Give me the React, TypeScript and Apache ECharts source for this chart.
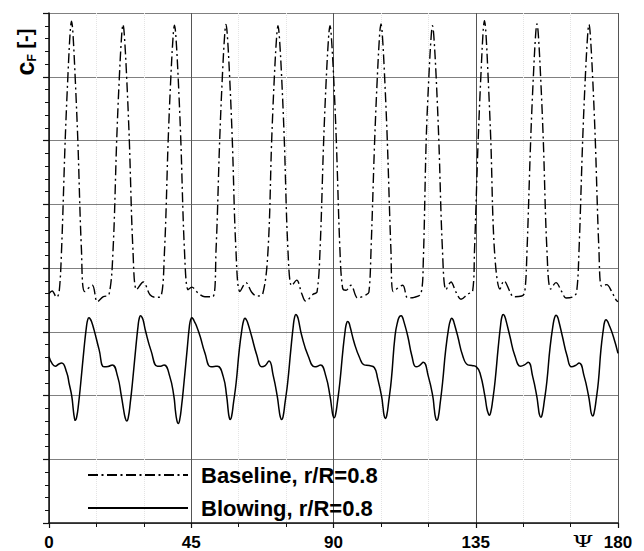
import React, { useEffect, useRef } from "react";
import * as echarts from "echarts";

const seriesNames = ["Baseline, r/R=0.8", "Blowing, r/R=0.8"];
const xTickStep = 45;
const xMin = 0;
const xMax = 180;
const yMin = 0;
const yMax = 8;

// Baseline, r/R=0.8  [psi (deg), c_F]
const baseline: [number, number][] = [
  [0, 3.6], [1.0, 3.64], [2.4, 3.54], [3.2, 3.62],
  [3.97, 4.28], [5.12, 6.0], [5.97, 7.0], [6.72, 7.72], [7.12, 7.87], [7.52, 7.72], [8.27, 7.0], [9.12, 6.0], [10.27, 4.28],
  [11.29, 3.63], [13.7, 3.73], [15.28, 3.47], [17.2, 3.55], [18.98, 3.58],
  [20.26, 4.28], [21.41, 6.0], [22.26, 7.0], [23.01, 7.67], [23.41, 7.82], [23.81, 7.67], [24.56, 7.0], [25.41, 6.0], [26.56, 4.28],
  [27.74, 3.66], [29.83, 3.78], [31.95, 3.58], [33.6, 3.54], [35.33, 3.55],
  [36.55, 4.28], [37.7, 6.0], [38.55, 7.0], [39.3, 7.66], [39.7, 7.81], [40.1, 7.66], [40.85, 7.0], [41.7, 6.0], [42.85, 4.28],
  [44.0, 3.66], [45.2, 3.7], [47.1, 3.61], [49.3, 3.55], [51.8, 3.55],
  [52.84, 4.28], [53.99, 6.0], [54.84, 7.0], [55.59, 7.67], [55.99, 7.82], [56.39, 7.67], [57.14, 7.0], [57.99, 6.0], [59.14, 4.28],
  [60.42, 3.63], [62.32, 3.77], [64.12, 3.62], [65.7, 3.56], [67.6, 3.59],
  [69.29, 4.28], [70.44, 6.0], [71.29, 7.0], [72.04, 7.65], [72.44, 7.8], [72.84, 7.65], [73.59, 7.0], [74.44, 6.0], [75.59, 4.28],
  [76.78, 3.72], [78.36, 3.81], [79.94, 3.6], [81.2, 3.48], [83.61, 3.59], [84.78, 3.62],
  [85.74, 4.28], [86.89, 6.0], [87.74, 7.0], [88.49, 7.65], [88.89, 7.8], [89.29, 7.65], [90.04, 7.0], [90.89, 6.0], [92.04, 4.28],
  [92.9, 3.68], [93.95, 3.65], [95.53, 3.73], [97.65, 3.53], [100.28, 3.58], [101.2, 3.62],
  [101.87, 4.28], [103.02, 6.0], [103.87, 7.0], [104.62, 7.68], [105.02, 7.83], [105.42, 7.68], [106.17, 7.0], [107.02, 6.0], [108.17, 4.28],
  [108.91, 3.63], [111.89, 3.73], [113.47, 3.53], [115.56, 3.54], [117.68, 3.6],
  [118.4, 4.1], [119.32, 6.0], [120.17, 7.0], [120.92, 7.65], [121.32, 7.8], [121.72, 7.65], [122.47, 7.0], [123.32, 6.0], [124.47, 4.28],
  [125.59, 3.66], [127.17, 3.78], [128.75, 3.62], [130.33, 3.51], [132.45, 3.59], [134.03, 3.64],
  [134.61, 4.28], [135.76, 6.0], [136.61, 7.0], [137.36, 7.73], [137.76, 7.88], [138.16, 7.73], [138.91, 7.0], [139.76, 6.0], [140.91, 4.28],
  [142.67, 3.67], [143.93, 3.8], [145.83, 3.63], [146.88, 3.55], [149.53, 3.56], [150.5, 3.62],
  [151.22, 4.28], [152.37, 6.0], [153.22, 7.0], [153.97, 7.68], [154.37, 7.83], [154.77, 7.68], [155.52, 7.0], [156.37, 6.0], [157.52, 4.28],
  [158.71, 3.67], [160.38, 3.77], [162.19, 3.63], [163.55, 3.53], [165.85, 3.55], [166.9, 3.62],
  [167.67, 4.28], [168.82, 6.0], [169.67, 7.0], [170.42, 7.67], [170.82, 7.82], [171.22, 7.67], [171.97, 7.0], [172.82, 6.0], [173.97, 4.28],
  [174.84, 3.71], [176.42, 3.74], [178.0, 3.63], [179.36, 3.5], [180, 3.47],
];

// Blowing, r/R=0.8  [psi (deg), c_F]
const blowing: [number, number][] = [
  [0, 2.61], [1.0, 2.5], [2.0, 2.46], [3.0, 2.49], [4.0, 2.51], [5.6, 2.36], [6.4, 2.18], [7.2, 1.99], [7.7, 1.77], [8.0, 1.66], [8.3, 1.61],
  [8.75, 1.66], [9.35, 1.87], [10.05, 2.2], [11.05, 2.72], [11.85, 3.08], [12.25, 3.19], [12.65, 3.22], [13.05, 3.2], [13.45, 3.16], [14.25, 3.03], [15.85, 2.72], [17.4, 2.45], [18.7, 2.455], [20.0, 2.48], [21.7, 2.3], [22.9, 1.99], [23.6, 1.78], [24.1, 1.65], [24.6, 1.6],
  [25.1, 1.66], [25.7, 1.88], [26.4, 2.2], [27.4, 2.72], [28.2, 3.1], [28.6, 3.22], [29.0, 3.25], [29.4, 3.23], [29.8, 3.18], [30.6, 3.0], [32.3, 2.7], [34.3, 2.46], [35.3, 2.46], [36.4, 2.48], [38.2, 2.3], [39.5, 1.99], [40.0, 1.76], [40.45, 1.61], [40.9, 1.56],
  [41.35, 1.62], [41.95, 1.84], [42.7, 2.2], [43.7, 2.72], [44.4, 3.08], [44.8, 3.19], [45.2, 3.22], [45.6, 3.2], [46.0, 3.16], [46.6, 3.1], [47.8, 2.93], [49.3, 2.67], [51.2, 2.45], [52.3, 2.455], [53.3, 2.46], [55.1, 2.3], [56.2, 1.99], [56.7, 1.76], [57.0, 1.66], [57.3, 1.625],
  [57.75, 1.67], [58.35, 1.88], [59.2, 2.2], [60.2, 2.72], [61.1, 3.06], [61.6, 3.18], [62.0, 3.21], [62.4, 3.19], [62.8, 3.15], [64.1, 2.93], [65.7, 2.64], [67.3, 2.45], [68.4, 2.47], [69.6, 2.54], [70.9, 2.32], [72.2, 1.99], [72.8, 1.77], [73.15, 1.67], [73.6, 1.625],
  [74.05, 1.67], [74.65, 1.88], [75.5, 2.2], [76.5, 2.72], [77.3, 3.1], [77.7, 3.23], [78.1, 3.27], [78.5, 3.25], [78.9, 3.19], [79.9, 2.95], [82.0, 2.62], [84.1, 2.45], [85.0, 2.46], [85.9, 2.48], [87.6, 2.3], [88.9, 1.99], [89.45, 1.8], [89.8, 1.69], [90.2, 1.65],
  [90.65, 1.7], [91.25, 1.9], [92.0, 2.2], [93.0, 2.72], [93.7, 3.02], [94.1, 3.13], [94.5, 3.16], [94.9, 3.14], [95.3, 3.07], [96.6, 2.82], [98.2, 2.6], [99.7, 2.48], [101.3, 2.47], [102.9, 2.44], [104.0, 2.26], [105.2, 1.99], [105.7, 1.8], [106.0, 1.69], [106.4, 1.64],
  [106.85, 1.69], [107.45, 1.9], [108.3, 2.25], [109.5, 2.95], [110.4, 3.18], [110.9, 3.24], [111.4, 3.25], [111.8, 3.23], [112.2, 3.17], [113.5, 2.93], [114.8, 2.62], [116.1, 2.45], [117.2, 2.47], [118.4, 2.52], [120.0, 2.3], [121.4, 1.99], [121.9, 1.78], [122.25, 1.66], [122.7, 1.61],
  [123.15, 1.66], [123.75, 1.88], [124.5, 2.2], [125.5, 2.72], [126.5, 3.08], [127.0, 3.18], [127.4, 3.21], [127.8, 3.19], [128.2, 3.13], [129.3, 2.93], [130.9, 2.62], [132.5, 2.48], [133.8, 2.47], [135.2, 2.45], [136.4, 2.34], [137.9, 1.99], [138.5, 1.8], [138.9, 1.73], [139.3, 1.69],
  [139.75, 1.74], [140.35, 1.92], [141.1, 2.22], [142.1, 2.75], [142.9, 3.12], [143.3, 3.24], [143.7, 3.27], [144.1, 3.25], [144.5, 3.19], [145.8, 2.93], [147.4, 2.62], [149.2, 2.46], [150.4, 2.48], [151.6, 2.52], [153.0, 2.3], [154.3, 1.99], [154.8, 1.81], [155.15, 1.7], [155.6, 1.66],
  [156.05, 1.71], [156.65, 1.9], [157.5, 2.22], [158.5, 2.75], [159.5, 3.12], [160.0, 3.23], [160.4, 3.26], [160.8, 3.24], [161.2, 3.18], [162.4, 2.93], [163.9, 2.62], [165.3, 2.45], [166.5, 2.47], [167.7, 2.51], [169.3, 2.3], [170.7, 1.99], [171.2, 1.83], [171.55, 1.72], [172.0, 1.68],
  [172.45, 1.73], [173.05, 1.92], [173.8, 2.22], [174.6, 2.72], [175.4, 3.05], [175.8, 3.16], [176.2, 3.19], [176.6, 3.17], [177.0, 3.13], [178.5, 2.93], [180, 2.66],
];

const FONT = "'Liberation Sans', Arial, Helvetica, sans-serif";

export default function App() {
  const ref = useRef<HTMLDivElement>(null);

  useEffect(() => {
    if (!ref.current) return;
    const chart = echarts.init(ref.current, undefined, { renderer: "svg" });
    chart.setOption({
      animation: false,
      backgroundColor: "#ffffff",
      grid: { left: 49, right: 26, top: 13, bottom: 27 },
      xAxis: {
        type: "value",
        min: xMin,
        max: xMax,
        interval: xTickStep,
        axisLine: { show: true, lineStyle: { color: "#111", width: 1.5 } },
        axisTick: { show: true, inside: false, length: 5, lineStyle: { color: "#111", width: 1.2 } },
        minorTick: { show: true, splitNumber: 3, length: 4, lineStyle: { color: "#111", width: 1 } },
        splitLine: { show: true, lineStyle: { color: "#555", width: 1 } },
        minorSplitLine: { show: true, lineStyle: { color: "#e4e4e4", width: 1, type: "dotted" } },
        axisLabel: { color: "#000", fontFamily: FONT, fontWeight: "bold", fontSize: 17, margin: 11 },
      },
      yAxis: {
        type: "value",
        min: yMin,
        max: yMax,
        interval: 1,
        axisLine: { show: true, lineStyle: { color: "#111", width: 1.5 } },
        axisTick: { show: true, inside: false, length: 6, lineStyle: { color: "#111", width: 1.2 } },
        minorTick: { show: true, splitNumber: 5, length: 4, lineStyle: { color: "#111", width: 1 } },
        splitLine: { show: true, lineStyle: { color: "#808080", width: 1 } },
        axisLabel: { show: false },
      },
      legend: {
        show: true,
        orient: "vertical",
        left: 82,
        top: 459,
        itemWidth: 100,
        itemHeight: 14,
        itemGap: 11,
        selectedMode: false,
        itemStyle: { opacity: 0 },
        textStyle: { color: "#000", fontFamily: FONT, fontWeight: "bold", fontSize: 22, lineHeight: 22, padding: [0, 0, 0, 8] },
        data: seriesNames,
      },
      graphic: [
        {
          type: "text",
          x: 25,
          y: 52,
          rotation: Math.PI / 2,
          style: {
            text: "{c|c}{s|F}{b| [-]}",
            align: "center",
            verticalAlign: "middle",
            fill: "#000",
            rich: {
              c: { fontFamily: FONT, fontWeight: "bold", fontSize: 25, fill: "#000" },
              s: { fontFamily: FONT, fontWeight: "bold", fontSize: 12, fill: "#000", verticalAlign: "bottom", padding: [12, 0, 0, 0] },
              b: { fontFamily: FONT, fontWeight: "bold", fontSize: 20, fill: "#000" },
            },
          },
        },
        {
          type: "text",
          x: 583,
          y: 541,
          scaleX: 1.4,
          style: {
            text: "Ψ",
            align: "center",
            verticalAlign: "middle",
            fill: "#000",
            font: "normal 17px 'DejaVu Serif', serif",
          },
        },
      ],
      series: [
        {
          name: seriesNames[0],
          type: "line",
          data: baseline,
          symbol: "none",
          smooth: 0.35,
          lineStyle: { color: "#000", width: 1.4, type: [10, 3.5, 2, 3.5] },
          itemStyle: { color: "#000" },
          z: 3,
        },
        {
          name: seriesNames[1],
          type: "line",
          data: blowing,
          symbol: "none",
          smooth: 0.5,
          lineStyle: { color: "#000", width: 1.5, type: "solid" },
          itemStyle: { color: "#000" },
          z: 3,
        },
      ],
    });
    return () => chart.dispose();
  }, []);

  return (
    <div
      ref={ref}
      style={{ position: "absolute", left: 0, top: 0, width: 644, height: 551, background: "#fff" }}
    />
  );
}
